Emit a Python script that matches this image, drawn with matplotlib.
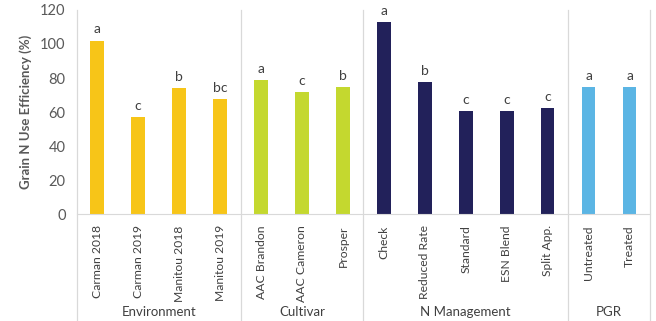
import matplotlib.pyplot as plt
import matplotlib.transforms as mtransforms

# --- dados ---
categorias = ['Carman 2018', 'Carman 2019', 'Manitou 2018', 'Manitou 2019',
              'AAC Brandon', 'AAC Cameron', 'Prosper',
              'Check', 'Reduced Rate', 'Standard', 'ESN Blend', 'Split App.',
              'Untreated', 'Treated']
valores = [102, 57, 74, 67.5,
           78.7, 72, 74.5,
           113, 77.8, 60.7, 60.7, 62.5,
           74.5, 74.5]
letras = ['a', 'c', 'b', 'bc',
          'a', 'c', 'b',
          'a', 'b', 'c', 'c', 'c',
          'a', 'a']
grupos = ['Environment', 'Cultivar', 'N Management', 'PGR']
tamanhos = [4, 3, 5, 2]
cores_grupo = ['#F7C518', '#C4D82F', '#22215A', '#5BB5E4']

plt.rcParams['font.family'] = ['Lato', 'DejaVu Sans']
cinza = '#595959'
linha = '#D9D9D9'

fig = plt.figure(figsize=(6.56, 3.21), dpi=100)
ax = fig.add_axes([0.117, 0.333, 0.874, 0.636])

cores = []
for cor, n in zip(cores_grupo, tamanhos):
    cores += [cor] * n

x = list(range(len(categorias)))
ax.bar(x, valores, width=0.33, color=cores, zorder=2)

for xi, v, l in zip(x, valores, letras):
    ax.text(xi, v + 3, l, ha='center', va='bottom', fontsize=10, color='#404040')

ax.set_xlim(-0.5, len(categorias) - 0.5)
ax.set_ylim(0, 120)
ax.set_yticks(range(0, 121, 20))
ax.tick_params(axis='y', length=0, labelsize=10.5, labelcolor=cinza, pad=8)
ax.set_xticks(x)
ax.set_xticklabels(categorias, rotation=90, fontsize=8.7, color='#404040')
ax.tick_params(axis='x', length=0, pad=8)
ax.set_ylabel('Grain N Use Efficiency (%)', fontsize=9.5, fontweight='bold', color=cinza, labelpad=6)

for s in ['top', 'right', 'left']:
    ax.spines[s].set_visible(False)
ax.spines['bottom'].set_color(linha)

# separadores dos grupos
trans = mtransforms.blended_transform_factory(ax.transData, ax.transAxes)
limites = [-0.5]
for n in tamanhos:
    limites.append(limites[-1] + n)
for b in limites:
    ax.plot([b, b], [1, -0.52], color=linha, lw=0.9, transform=trans, clip_on=False, zorder=1)

for i, g in enumerate(grupos):
    meio = (limites[i] + limites[i + 1]) / 2
    ax.text(meio, -0.48, g, transform=trans, ha='center', va='center', fontsize=9.5, color='#404040')

plt.savefig('out.png', dpi=100)
